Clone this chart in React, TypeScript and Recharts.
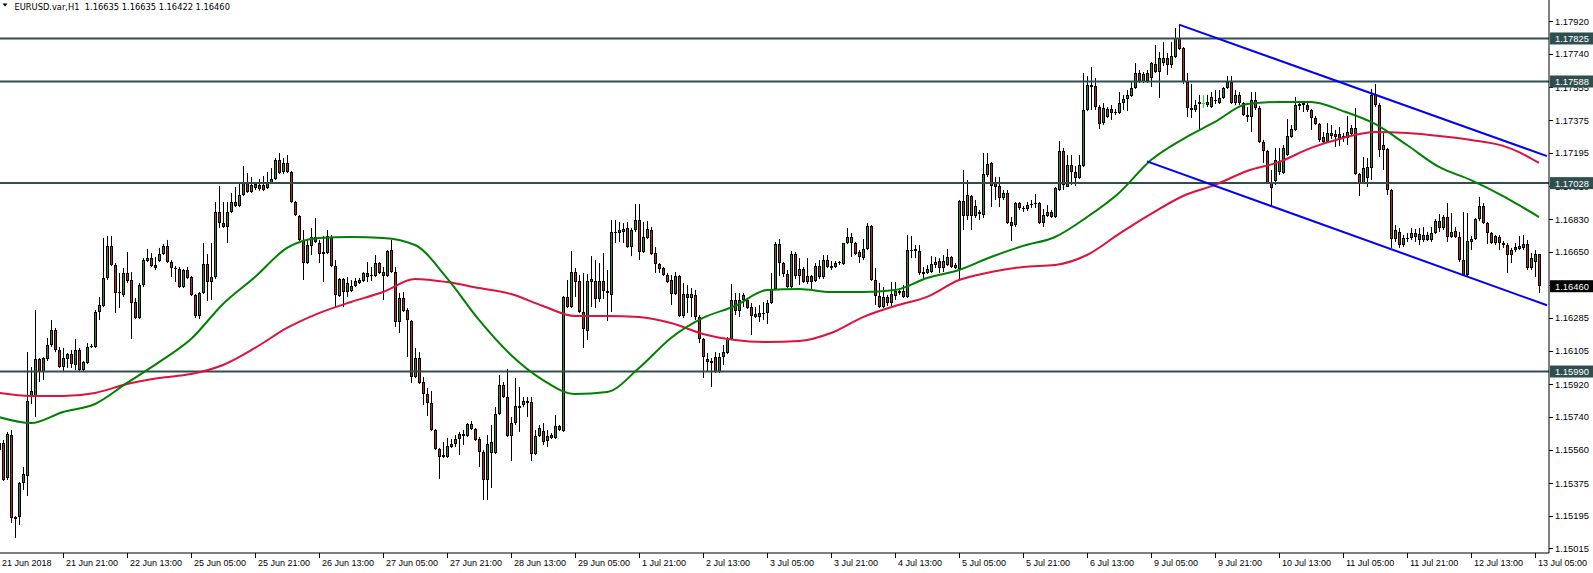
import React from 'react';
import { ComposedChart, Bar, Line, XAxis, YAxis, ReferenceLine } from 'recharts';

// prices are stored in points (1 point = 0.00001)
const PS = 100000;
const SYMBOL = 'EURUSD.var,H1';
const HEADER_OHLC = ['1.16635', '1.16635', '1.16422', '1.16460'];

const timeLabels = ['21 Jun 2018', '21 Jun 21:00', '22 Jun 13:00', '25 Jun 05:00', '25 Jun 21:00', '26 Jun 13:00', '27 Jun 05:00', '27 Jun 21:00', '28 Jun 13:00', '29 Jun 05:00', '1 Jul 21:00', '2 Jul 13:00', '3 Jul 05:00', '3 Jul 21:00', '4 Jul 13:00', '5 Jul 05:00', '5 Jul 21:00', '6 Jul 13:00', '9 Jul 05:00', '9 Jul 21:00', '10 Jul 13:00', '11 Jul 05:00', '11 Jul 21:00', '12 Jul 13:00', '13 Jul 05:00'];
const LABEL_EVERY = 16;

const opens = [
115557,115596,115403,115640,115188,115188,115376,115414,115855,115855,
116059,115987,116059,116136,116219,116108,116015,116059,116086,116026,
116108,115998,116037,116125,116125,116318,116351,116505,116682,116577,
116428,116412,116533,116494,116373,116285,116467,116599,116615,116577,
116599,116637,116682,116593,116560,116555,116456,116549,116511,116412,
116296,116423,116582,116483,116511,116869,116808,116786,116869,116924,
116902,116963,117029,116979,117023,117018,117018,117001,117029,117051,
117155,117089,117139,117089,116924,116847,116715,116588,116682,116731,
116698,116648,116643,116731,116571,116406,116500,116428,116434,116461,
116478,116489,116533,116516,116516,116588,116538,116516,116659,116538,
116263,116395,116329,116268,115960,116064,115932,115866,115816,115668,
115563,115530,115519,115574,115591,115618,115635,115635,115701,115673,
115618,115546,115392,115541,115541,115756,115916,115850,115635,115706,
115800,115805,115827,115822,115535,115635,115662,115607,115624,115624,
115690,115662,116401,116345,116538,116489,116318,116213,116483,116489,
116390,116489,116434,116412,116753,116753,116759,116781,116676,116770,
116825,116648,116726,116770,116643,116582,116560,116522,116494,116417,
116516,116296,116417,116395,116412,116290,116169,116059,116048,116070,
115987,116070,116092,116169,116384,116323,116384,116384,116345,116290,
116290,116307,116312,116367,116445,116693,116588,116527,116456,116637,
116516,116555,116483,116516,116489,116571,116511,116604,116560,116566,
116588,116582,116698,116731,116698,116648,116615,116665,116792,116494,
116406,116345,116401,116367,116406,116423,116434,116401,116654,116654,
116654,116538,116533,116538,116577,116599,116560,116577,116621,116560,
116555,116930,116847,116957,116847,116869,116852,117073,117139,117029,
117012,116946,116974,116814,116797,116918,116891,116885,116907,116913,
116918,116808,116847,116869,116841,116990,117205,117007,117128,117089,
117056,117122,117431,117569,117563,117447,117359,117392,117436,117414,
117414,117469,117492,117508,117552,117635,117585,117635,117607,117684,
117640,117690,117717,117679,117723,117828,117772,117585,117442,117431,
117464,117469,117458,117447,117480,117469,117497,117552,117585,117469,
117514,117469,117403,117392,117486,117442,117254,117205,117029,117040,
117089,117084,117183,117282,117321,117464,117458,117458,117431,117387,
117354,117282,117255,117304,117299,117299,117277,117277,117299,117332,
117078,117029,117056,117111,117514,117458,117211,117216,116990,116720,
116759,116687,116720,116726,116753,116748,116715,116742,116715,116753,
116819,116781,116841,116731,116764,116731,116604,116522,116704,116720,
116830,116902,116808,116753,116698,116731,116698,116687,116632,116660,
116665,116693,116693,116560,116593,116635,
];

const highs = [
115624,115613,115657,115668,115194,115381,115464,116097,116015,116329,
116064,116070,116175,116274,116230,116125,116120,116092,116108,116169,
116120,116048,116147,116142,116329,116401,116726,116737,116737,116588,
116533,116560,116648,116538,116395,116478,116615,116665,116643,116621,
116671,116693,116715,116604,116571,116566,116555,116566,116516,116417,
116428,116698,116637,116698,116924,117012,116924,116924,116974,117007,
117029,117122,117084,117062,117029,117051,117067,117089,117111,117166,
117194,117166,117183,117095,116930,116852,116770,116715,116781,116836,
116715,116737,116770,116742,116604,116505,116505,116511,116494,116505,
116505,116538,116593,116566,116632,116593,116566,116659,116715,116566,
116423,116428,116340,116274,116120,116097,115960,115899,115883,115673,
115569,115602,115624,115618,115640,115657,115668,115706,115717,115679,
115629,115557,115640,115695,115794,115971,115932,116004,115739,115954,
115905,115850,115850,115850,115668,115695,115706,115668,115651,115750,
115695,116406,116494,116654,116560,116522,116533,116527,116626,116604,
116588,116643,116549,116825,116825,116814,116808,116814,116781,116913,
116913,116814,116819,116786,116676,116588,116566,116533,116522,116538,
116522,116478,116467,116450,116439,116301,116175,116092,116064,116097,
116092,116136,116180,116472,116423,116423,116423,116395,116367,116345,
116356,116373,116384,116533,116704,116720,116593,116549,116654,116648,
116615,116566,116615,116522,116588,116604,116632,116632,116599,116599,
116599,116698,116781,116753,116704,116659,116720,116808,116797,116560,
116478,116456,116412,116483,116483,116450,116467,116742,116737,116687,
116687,116566,116577,116626,116621,116615,116632,116665,116626,116588,
116935,117100,117045,116963,116935,116880,117194,117194,117144,117062,
117062,116990,116990,116841,116924,116924,116902,116924,116935,116968,
116924,116885,116907,116880,117007,117260,117222,117183,117183,117122,
117183,117635,117618,117668,117607,117458,117469,117447,117458,117436,
117530,117514,117541,117585,117690,117651,117640,117651,117695,117789,
117750,117806,117745,117806,117883,117899,117778,117635,117574,117486,
117514,117514,117514,117530,117541,117541,117558,117618,117618,117541,
117530,117475,117447,117530,117530,117453,117266,117211,117100,117222,
117222,117238,117381,117348,117503,117480,117480,117480,117436,117398,
117359,117310,117359,117348,117321,117337,117304,117398,117348,117442,
117084,117172,117166,117547,117574,117469,117304,117222,116996,116797,
116781,116742,116753,116781,116775,116781,116786,116759,116786,116830,
116858,116852,116918,116863,116786,116759,116869,116863,116737,116836,
116952,116918,116814,116759,116742,116742,116709,116698,116671,116698,
116737,116742,116715,116643,116659,116635,
];

const lows = [
115513,115387,115392,115155,115073,115144,115337,115304,115811,115739,
115932,115943,116048,116125,116097,116009,115987,116009,116009,115998,
115987,115987,116031,116120,116120,116274,116345,116494,116571,116312,
116340,116401,116478,116169,116279,116279,116456,116593,116566,116549,
116593,116632,116588,116511,116483,116450,116450,116500,116406,116285,
116279,116417,116378,116384,116500,116781,116781,116698,116863,116896,
116896,116957,116974,116974,116990,116985,116985,116996,117023,117045,
117078,117078,117084,116918,116847,116704,116494,116582,116632,116698,
116588,116483,116637,116566,116345,116401,116345,116401,116428,116456,
116472,116483,116483,116489,116511,116527,116384,116511,116533,116235,
116202,116318,116070,115927,115954,115921,115805,115745,115662,115557,
115398,115513,115513,115569,115574,115530,115585,115629,115668,115607,
115464,115282,115282,115348,115535,115750,115844,115629,115497,115695,
115657,115794,115739,115497,115530,115629,115585,115574,115618,115618,
115662,115657,116340,116340,116401,116312,116120,116164,116345,116340,
116373,116390,116268,116318,116698,116704,116698,116671,116626,116759,
116604,116643,116720,116632,116533,116533,116516,116478,116356,116412,
116290,116285,116312,116290,116274,116147,115954,115987,115905,115982,
115982,116026,116086,116164,116301,116290,116345,116334,116191,116285,
116263,116274,116252,116362,116439,116516,116511,116450,116450,116500,
116467,116478,116472,116445,116483,116500,116500,116560,116549,116560,
116577,116577,116693,116621,116632,116588,116604,116659,116489,116356,
116340,116340,116351,116345,116384,116412,116395,116395,116615,116615,
116522,116494,116527,116533,116560,116533,116538,116571,116560,116555,
116494,116770,116825,116770,116836,116825,116836,117062,116896,116935,
116896,116935,116803,116709,116786,116880,116869,116874,116891,116891,
116803,116786,116841,116836,116836,116985,116990,117007,117018,117012,
117051,117117,117425,117431,117431,117326,117348,117387,117376,117403,
117409,117431,117425,117503,117547,117580,117580,117580,117558,117635,
117497,117673,117624,117662,117717,117761,117574,117392,117387,117420,
117321,117442,117447,117442,117464,117464,117492,117547,117464,117458,
117458,117398,117365,117310,117431,117249,117139,117023,116907,117018,
117073,117078,117178,117277,117315,117431,117420,117420,117321,117348,
117255,117249,117249,117271,117227,117233,117255,117238,117288,117073,
116957,117023,117007,117045,117447,117172,117100,116963,116671,116704,
116671,116676,116704,116715,116704,116687,116704,116709,116704,116748,
116759,116770,116704,116726,116726,116593,116516,116511,116660,116715,
116819,116803,116693,116693,116687,116660,116671,116533,116588,116648,
116660,116660,116549,116549,116511,116422,
];

const closes = [
115596,115392,115646,115183,115177,115376,115425,115827,115883,116059,
115987,116064,116136,116219,116108,116015,116064,116086,116031,116108,
115998,116042,116125,116131,116318,116356,116505,116682,116577,116423,
116423,116533,116489,116367,116285,116467,116604,116615,116571,116560,
116637,116682,116593,116560,116555,116456,116549,116505,116412,116296,
116423,116582,116483,116511,116869,116808,116786,116869,116924,116902,
116963,117029,116979,117018,117001,116996,116990,117029,117051,117155,
117084,117139,117089,116924,116852,116715,116588,116687,116731,116704,
116637,116637,116737,116571,116412,116500,116428,116478,116461,116489,
116494,116533,116511,116522,116588,116533,116516,116654,116538,116263,
116395,116323,116274,115960,116064,115927,115866,115816,115668,115563,
115519,115519,115580,115591,115618,115646,115646,115701,115673,115613,
115546,115392,115591,115602,115756,115916,115850,115635,115706,115800,
115789,115827,115816,115535,115635,115679,115602,115635,115640,115690,
115668,116401,116345,116538,116483,116318,116224,116489,116500,116390,
116489,116434,116423,116759,116759,116770,116775,116676,116770,116825,
116648,116731,116775,116637,116582,116555,116522,116483,116417,116516,
116296,116417,116395,116417,116290,116169,116070,116042,116037,115987,
116070,116097,116175,116384,116323,116384,116412,116340,116296,116307,
116312,116312,116367,116445,116693,116588,116527,116456,116637,116516,
116555,116483,116516,116483,116571,116511,116604,116566,116571,116588,
116593,116698,116731,116698,116637,116621,116665,116792,116494,116406,
116345,116401,116367,116417,116434,116434,116401,116659,116659,116665,
116533,116527,116555,116582,116593,116560,116599,116621,116566,116577,
116930,116847,116963,116847,116902,116858,117078,117133,117012,117007,
116946,116974,116808,116792,116918,116891,116885,116907,116913,116918,
116808,116852,116869,116841,117001,117205,117018,117128,117089,117056,
117128,117431,117569,117558,117447,117354,117442,117436,117414,117420,
117469,117492,117514,117552,117635,117585,117629,117591,117690,117640,
117717,117717,117679,117728,117828,117767,117585,117442,117431,117458,
117475,117469,117475,117503,117486,117497,117552,117585,117469,117514,
117469,117403,117392,117486,117442,117254,117205,117029,117001,117155,
117150,117222,117287,117326,117458,117453,117469,117431,117387,117354,
117266,117255,117304,117287,117282,117266,117287,117310,117332,117078,
117029,117111,117117,117514,117458,117211,117238,116990,116720,116770,
116687,116726,116726,116753,116731,116715,116742,116715,116753,116819,
116781,116841,116731,116759,116731,116604,116522,116709,116720,116830,
116902,116808,116753,116698,116737,116698,116687,116632,116660,116676,
116682,116671,116560,116615,116635,116460,
];

// moving averages read at sample bars
const maBars = [0,8,16,24,32,40,48,56,64,72,80,88,96,104,112,120,128,136,144,152,160,168,176,184,192,200,208,216,224,232,240,248,256,264,272,280,288,296,304,312,320,328,336,344,352,360,368,376,380,385];
const greenMa = [115739,115706,115767,115811,115927,116042,116169,116362,116511,116671,116726,116731,116726,116687,116505,116274,116081,115943,115866,115877,116009,116175,116285,116351,116439,116445,116428,116428,116439,116505,116549,116621,116682,116731,116841,116974,117155,117271,117365,117464,117475,117475,117425,117354,117238,117117,117045,116957,116907,116841];
const redMa = [115872,115855,115855,115872,115921,115954,115976,116026,116120,116230,116312,116373,116428,116500,116483,116450,116417,116351,116296,116296,116290,116257,116197,116164,116153,116158,116202,116290,116351,116401,116494,116538,116566,116577,116632,116748,116858,116957,117018,117095,117144,117222,117277,117310,117304,117288,117266,117233,117199,117139];

// trend channel anchors
const upperTrendBars = [295, 387];
const upperTrend = [117901, 117177];
const lowerTrendBars = [287, 387];
const lowerTrend = [117148, 116355];

// horizontal levels and axis ticks
const levels = [117825, 117588, 117028, 115990];
const lastPrice = 116460;
const axisTicks = [117920, 117740, 117555, 117375, 117195, 117010, 116830, 116650, 116465, 116285, 116105, 115920, 115740, 115560, 115375, 115195, 115015];
const Y_MIN = 114990;
const Y_MAX = 118037;

const BULL = '#238b23';
const BEAR = '#b3262a';
const DOJI = '#00ff00';
const LEVEL = '#2f4f4f';
const AXIS_FONT = '"Liberation Sans", Arial, sans-serif';

const N = opens.length;
const rows: any[] = [];
for (let i = 0; i < N + 2; i++) {
  const r: any = { i };
  if (i < N) {
    r.o = opens[i] / PS;
    r.h = highs[i] / PS;
    r.l = lows[i] / PS;
    r.c = closes[i] / PS;
    r.range = [lows[i] / PS, highs[i] / PS];
  }
  rows.push(r);
}
maBars.forEach((b, k) => {
  rows[b].gma = greenMa[k] / PS;
  rows[b].rma = redMa[k] / PS;
});
upperTrendBars.forEach((b, k) => { rows[b].up = upperTrend[k] / PS; });
lowerTrendBars.forEach((b, k) => { rows[b].dn = lowerTrend[k] / PS; });

const Candle = (props: any) => {
  const { x, y, width, height, payload } = props;
  if (!payload || payload.o == null) return null;
  const { o, h, l, c } = payload;
  const top = Math.min(y, y + height);
  const bot = Math.max(y, y + height);
  const span = h - l;
  const py = (p: number) => (span > 0 ? top + ((h - p) / span) * (bot - top) : top);
  const cx = Math.round(x + width / 2);
  const wx = cx + 0.5;
  const yO = py(o);
  const yC = py(c);
  const bTop = Math.round(Math.min(yO, yC));
  const bBot = Math.round(Math.max(yO, yC));
  if (o === c) {
    return (
      <g>
        <line x1={wx} x2={wx} y1={top} y2={bot} stroke={DOJI} strokeWidth={1} />
        <line x1={cx - 1} x2={cx + 2} y1={bTop + 0.5} y2={bTop + 0.5} stroke={DOJI} strokeWidth={1} />
      </g>
    );
  }
  const fill = c > o ? BULL : BEAR;
  return (
    <g>
      <line x1={wx} x2={wx} y1={top} y2={bot} stroke="#000" strokeWidth={1} />
      {bBot - bTop >= 2 ? (
        <rect x={cx - 0.5} y={bTop + 0.5} width={2} height={bBot - bTop - 1} fill={fill} stroke="#000" strokeWidth={1} />
      ) : (
        <line x1={cx - 1} x2={cx + 2} y1={bTop + 0.5} y2={bTop + 0.5} stroke="#000" strokeWidth={1} />
      )}
    </g>
  );
};

const XTick = (props: any) => {
  const { x, y, payload } = props;
  const k = Math.round(payload.value / LABEL_EVERY);
  const label = timeLabels[k];
  if (!label) return null;
  const tx = Math.round(x) + 0.5;
  return (
    <g>
      {k > 0 && <line x1={tx} x2={tx} y1={y} y2={y + 5} stroke="#000" strokeWidth={1} />}
      <text x={Math.round(x) + 3} y={y + 13} fontSize={9} fontFamily={AXIS_FONT} fill="#000" textAnchor="start">{label}</text>
    </g>
  );
};

const YTick = (props: any) => {
  const { x, y, payload } = props;
  const pts = Math.round(payload.value * PS);
  const txt = (pts / PS).toFixed(5);
  const isLevel = levels.includes(pts);
  const isLast = pts === lastPrice;
  if (isLevel || isLast) {
    return (
      <g>
        <rect x={x + 1} y={y - 6} width={44} height={12} fill={isLast ? '#000' : LEVEL} />
        <text x={x + 6} y={y + 3.5} fontSize={9.4} fontFamily={AXIS_FONT} fill="#fff" textAnchor="start">{txt}</text>
      </g>
    );
  }
  const ty = Math.round(y) + 0.5;
  return (
    <g>
      <line x1={x} x2={x + 4} y1={ty} y2={ty} stroke="#000" strokeWidth={1} />
      <text x={x + 6} y={y + 3.5} fontSize={9.4} fontFamily={AXIS_FONT} fill="#000" textAnchor="start">{txt}</text>
    </g>
  );
};

const yTickValues = [...axisTicks, ...levels, lastPrice].map((v) => v / PS);

export default function App() {
  return (
    <div style={{ position: 'absolute', left: 0, top: 0, width: 1593, height: 573, overflow: 'hidden', background: '#fff' }}>
      <div style={{ position: 'absolute', left: -3, top: 0 }}>
        <ComposedChart width={1596} height={573} data={rows} margin={{ top: 0, right: 0, left: 0, bottom: 0 }}>
          <XAxis
            dataKey="i"
            type="category"
            interval={LABEL_EVERY - 1}
            height={20}
            tickLine={false}
            tickSize={0}
            tickMargin={0}
            axisLine={{ stroke: '#000' }}
            tick={<XTick />}
          />
          <YAxis
            orientation="right"
            type="number"
            width={44}
            domain={[Y_MIN / PS, Y_MAX / PS]}
            allowDataOverflow
            ticks={yTickValues}
            interval={0}
            tickLine={false}
            tickSize={0}
            tickMargin={0}
            axisLine={{ stroke: '#000' }}
            tick={<YTick />}
          />
          <Bar dataKey="range" isAnimationActive={false} shape={(p: any) => <Candle {...p} />} />
          {levels.map((lv) => (
            <ReferenceLine key={lv} y={lv / PS} stroke={LEVEL} strokeWidth={2} ifOverflow="hidden" />
          ))}
          <Line dataKey="rma" type="monotone" stroke="#dc143c" strokeWidth={2} dot={false} activeDot={false} connectNulls isAnimationActive={false} />
          <Line dataKey="gma" type="monotone" stroke="#008000" strokeWidth={2} dot={false} activeDot={false} connectNulls isAnimationActive={false} />
          <Line dataKey="up" type="linear" stroke="#0000ff" strokeWidth={2} dot={false} activeDot={false} connectNulls isAnimationActive={false} />
          <Line dataKey="dn" type="linear" stroke="#0000ff" strokeWidth={2} dot={false} activeDot={false} connectNulls isAnimationActive={false} />
        </ComposedChart>
      </div>
      <svg style={{ position: 'absolute', left: 0, top: 0 }} width={300} height={14}>
        <polygon points="2.5,3.5 7.5,3.5 5,6.5" fill="#000" />
        <text x={14.5} y={9.5} fontSize={8.3} fontFamily='"DejaVu Sans", Verdana, sans-serif' fill="#000">
          {SYMBOL + '\u00a0\u00a0' + HEADER_OHLC.join(' ')}
        </text>
      </svg>
    </div>
  );
}
